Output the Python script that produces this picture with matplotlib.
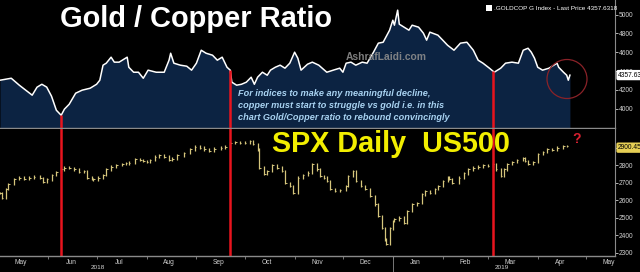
import matplotlib
matplotlib.use("Agg")
import matplotlib.pyplot as plt
import matplotlib.dates as mdates
from matplotlib.patches import Ellipse, Rectangle
import numpy as np
import pandas as pd

plt.rcParams["font.family"] = ["Liberation Sans", "DejaVu Sans"]

# --- Gold / Copper ratio ---
gold_dates = [
    "2018-05-02", "2018-05-09", "2018-05-14", "2018-05-18", "2018-05-22", "2018-05-25", "2018-05-28",
    "2018-05-31", "2018-06-03", "2018-06-06", "2018-06-09", "2018-06-11", "2018-06-14", "2018-06-18",
    "2018-06-22", "2018-06-27", "2018-07-01", "2018-07-03", "2018-07-05", "2018-07-07", "2018-07-10",
    "2018-07-12", "2018-07-15", "2018-07-20", "2018-07-21", "2018-07-24", "2018-07-27", "2018-07-30",
    "2018-08-02", "2018-08-07", "2018-08-12", "2018-08-15", "2018-08-16", "2018-08-18", "2018-08-22",
    "2018-08-26", "2018-08-29", "2018-09-01", "2018-09-04", "2018-09-07", "2018-09-11", "2018-09-14",
    "2018-09-17", "2018-09-20", "2018-09-22", "2018-09-23", "2018-09-26", "2018-09-29", "2018-10-02",
    "2018-10-05", "2018-10-07", "2018-10-09", "2018-10-12", "2018-10-15", "2018-10-17", "2018-10-20",
    "2018-10-23", "2018-10-26", "2018-10-29", "2018-11-01", "2018-11-03", "2018-11-05", "2018-11-09",
    "2018-11-12", "2018-11-16", "2018-11-21", "2018-11-25", "2018-11-29", "2018-12-01", "2018-12-03",
    "2018-12-06", "2018-12-09", "2018-12-13", "2018-12-16", "2018-12-20", "2018-12-23", "2018-12-26",
    "2018-12-28", "2018-12-30", "2019-01-01", "2019-01-02", "2019-01-04", "2019-01-05", "2019-01-08",
    "2019-01-11", "2019-01-13", "2019-01-17", "2019-01-20", "2019-01-22", "2019-01-24", "2019-01-29",
    "2019-02-01", "2019-02-04", "2019-02-08", "2019-02-12", "2019-02-16", "2019-02-20", "2019-02-23",
    "2019-02-26", "2019-03-02", "2019-03-05", "2019-03-09", "2019-03-12", "2019-03-16", "2019-03-20",
    "2019-03-23", "2019-03-26", "2019-03-28", "2019-03-30", "2019-04-01", "2019-04-04", "2019-04-08",
    "2019-04-11", "2019-04-13", "2019-04-14", "2019-04-17", "2019-04-19", "2019-04-20", "2019-04-21",
]
gold_values = [
    4303, 4324, 4250, 4197, 4144, 4229, 4260,
    4230, 4133, 3984, 3930, 3995, 4048, 4165,
    4197, 4218, 4260, 4303, 4463, 4484, 4548,
    4495, 4495, 4548, 4441, 4388, 4388, 4324,
    4410, 4388, 4388, 4516, 4590, 4484, 4463,
    4452, 4410, 4484, 4622, 4590, 4569, 4516,
    4548, 4441, 4410, 4282, 4250, 4260, 4282,
    4335, 4260, 4335, 4388, 4356, 4410, 4441,
    4463, 4431, 4484, 4601, 4537, 4410, 4473,
    4495, 4463, 4388, 4410, 4431, 4388, 4484,
    4495, 4463, 4495, 4484, 4601, 4697, 4707,
    4771, 4835, 4941, 4888, 5048, 4899, 4867,
    4835, 4888, 4867, 4803, 4729, 4814, 4782,
    4729, 4675, 4622, 4697, 4707, 4622, 4516,
    4484, 4431, 4388, 4431, 4484, 4495, 4484,
    4622, 4643, 4601, 4537, 4441, 4410, 4431,
    4463, 4484, 4441, 4388, 4356, 4303, 4357,
]

# --- SPX daily closes ---
spx_dates = [
    "2018-05-02", "2018-05-03", "2018-05-06", "2018-05-07", "2018-05-11", "2018-05-14", "2018-05-17",
    "2018-05-20", "2018-05-23", "2018-05-27", "2018-05-29", "2018-05-31", "2018-06-03", "2018-06-06",
    "2018-06-09", "2018-06-11", "2018-06-14", "2018-06-17", "2018-06-20", "2018-06-23", "2018-06-25",
    "2018-06-28", "2018-06-29", "2018-07-02", "2018-07-05", "2018-07-07", "2018-07-10", "2018-07-13",
    "2018-07-17", "2018-07-19", "2018-07-21", "2018-07-25", "2018-07-28", "2018-07-30", "2018-08-01",
    "2018-08-03", "2018-08-06", "2018-08-09", "2018-08-12", "2018-08-15", "2018-08-17", "2018-08-20",
    "2018-08-24", "2018-08-28", "2018-08-31", "2018-09-03", "2018-09-06", "2018-09-09", "2018-09-12",
    "2018-09-16", "2018-09-19", "2018-09-22", "2018-09-25", "2018-09-28", "2018-10-01", "2018-10-04",
    "2018-10-06", "2018-10-09", "2018-10-10", "2018-10-13", "2018-10-15", "2018-10-18", "2018-10-21",
    "2018-10-24", "2018-10-26", "2018-10-29", "2018-10-31", "2018-11-03", "2018-11-06", "2018-11-09",
    "2018-11-12", "2018-11-15", "2018-11-17", "2018-11-19", "2018-11-21", "2018-11-23", "2018-11-26",
    "2018-11-29", "2018-12-03", "2018-12-04", "2018-12-07", "2018-12-09", "2018-12-12", "2018-12-15",
    "2018-12-18", "2018-12-21", "2018-12-23", "2018-12-25", "2018-12-27", "2018-12-28", "2018-12-30",
    "2019-01-01", "2019-01-02", "2019-01-05", "2019-01-08", "2019-01-10", "2019-01-13", "2019-01-16",
    "2019-01-19", "2019-01-21", "2019-01-24", "2019-01-27", "2019-01-29", "2019-02-01", "2019-02-04",
    "2019-02-05", "2019-02-07", "2019-02-11", "2019-02-14", "2019-02-17", "2019-02-20", "2019-02-23",
    "2019-02-26", "2019-03-01", "2019-03-04", "2019-03-06", "2019-03-09", "2019-03-11", "2019-03-13",
    "2019-03-16", "2019-03-19", "2019-03-23", "2019-03-24", "2019-03-26", "2019-03-29", "2019-04-01",
    "2019-04-04", "2019-04-07", "2019-04-10", "2019-04-13", "2019-04-17", "2019-04-19",
]
spx_close = [
    2643, 2615, 2665, 2693, 2722, 2729, 2723,
    2729, 2735, 2726, 2706, 2720, 2743, 2762,
    2777, 2786, 2785, 2777, 2762, 2767, 2729,
    2723, 2720, 2729, 2743, 2777, 2792, 2800,
    2806, 2811, 2815, 2834, 2830, 2825, 2819,
    2830, 2849, 2857, 2849, 2830, 2838, 2857,
    2869, 2891, 2906, 2901, 2891, 2882, 2895,
    2901, 2906, 2926, 2933, 2926, 2929, 2939,
    2920, 2891, 2786, 2749, 2767, 2800, 2786,
    2767, 2700, 2682, 2643, 2729, 2743, 2758,
    2806, 2777, 2739, 2729, 2710, 2663, 2653,
    2659, 2682, 2739, 2767, 2710, 2682, 2663,
    2625, 2577, 2510, 2443, 2377, 2351, 2440,
    2482, 2491, 2501, 2472, 2539, 2577, 2586,
    2634, 2653, 2643, 2666, 2682, 2710, 2729,
    2723, 2700, 2729, 2754, 2777, 2786, 2792,
    2800, 2796, 2806, 2777, 2739, 2777, 2806,
    2819, 2830, 2843, 2825, 2806, 2819, 2863,
    2876, 2891, 2888, 2901, 2910, 2910,
]

red_line_dates = ["2018-06-09", "2018-09-22", "2019-03-04"]
month_labels = ["May", "Jun", "Jul", "Aug", "Sep", "Oct", "Nov", "Dec", "Jan", "Feb", "Mar", "Apr", "May"]
top_ticks = [4000, 4200, 4400, 4600, 4800, 5000]
bottom_ticks = [2300, 2400, 2500, 2600, 2700, 2800, 2900]
last_gold = "4357.6318"
last_spx = "2900.45"

gd = pd.to_datetime(gold_dates)
sd = pd.to_datetime(spx_dates)
rd = pd.to_datetime(red_line_dates)
gv = np.array(gold_values, dtype=float)
sc = np.array(spx_close, dtype=float)

BG = "black"
GRID = "#8a8a8a"
TXT = "#d0d0d0"
RED = "#e8141e"

fig = plt.figure(figsize=(6.4, 2.72), dpi=100, facecolor=BG)
W = 615 / 640
ax1 = fig.add_axes([0, 1 - 128 / 272, W, 128 / 272], facecolor=BG)
ax2 = fig.add_axes([0, 1 - 256 / 272, W, 127 / 272], facecolor=BG, sharex=ax1)

x0, x1 = pd.Timestamp("2018-05-02"), pd.Timestamp("2019-05-19")
top_lim = (3795, 5156)
bot_lim = (2282, 3007)

# top panel
ax1.fill_between(gd, gv, top_lim[0], color="#0c2342", lw=0)
ax1.plot(gd, gv, color="white", lw=1.1)
tops = np.interp(mdates.date2num(rd), mdates.date2num(gd), gv)
ax1.vlines(rd, top_lim[0], tops, color=RED, lw=1.8)
ax1.set_ylim(*top_lim)

# bottom panel: daily bars
prev = np.concatenate([[sc[0]], sc[:-1]])
lo = np.minimum(prev, sc) - 7
hi = np.maximum(prev, sc) + 7
ax2.vlines(sd, lo, hi, color="#d6c67c", lw=0.9)
ax2.hlines(sc, mdates.date2num(sd), mdates.date2num(sd) + 1.0, color="#d6c67c", lw=0.7)
for d in rd:
    ax2.axvline(d, color=RED, lw=1.8)
ax2.set_ylim(*bot_lim)
ax2.set_xlim(x0, x1)

for ax, ticks in ((ax1, top_ticks), (ax2, bottom_ticks)):
    for s in ("left", "top"):
        ax.spines[s].set_visible(False)
    ax.spines["right"].set_color(GRID)
    ax.spines["bottom"].set_color(GRID)
    ax.spines["right"].set_linewidth(0.8)
    ax.spines["bottom"].set_linewidth(1.0)
    ax.yaxis.tick_right()
    ax.set_yticks(ticks)
    ax.tick_params(axis="y", colors=TXT, labelsize=4.8, length=2, width=0.6, pad=1)

ax1.tick_params(axis="x", bottom=False, labelbottom=False)

ax2.xaxis.set_major_locator(mdates.MonthLocator())
ax2.xaxis.set_major_formatter(plt.NullFormatter())
mid = pd.date_range("2018-05-01", "2019-05-01", freq="MS") + pd.Timedelta(days=14)
ax2.set_xticks(mid, minor=True)
ax2.set_xticklabels(month_labels, minor=True)
ax2.tick_params(axis="x", which="major", colors=GRID, length=2, width=0.6)
ax2.tick_params(axis="x", which="minor", length=0, labelsize=4.8, labelcolor=TXT, pad=2)

# year labels and separator
trans = ax2.get_xaxis_transform()
ax2.plot([mdates.date2num(pd.Timestamp("2019-01-01"))] * 2, [0, -0.13], transform=trans,
         color=GRID, lw=0.6, clip_on=False)
ax2.text(pd.Timestamp("2018-07-02"), -0.088, "2018", transform=trans, color=TXT, fontsize=4.6,
         ha="center", va="center")
ax2.text(pd.Timestamp("2019-03-10"), -0.088, "2019", transform=trans, color=TXT, fontsize=4.6,
         ha="center", va="center")

# last price labels
ax1.text(1.005, (4357.63 - top_lim[0]) / (top_lim[1] - top_lim[0]), last_gold, transform=ax1.transAxes,
         fontsize=4.8, color="black", va="center", ha="left", clip_on=False,
         bbox=dict(boxstyle="round,pad=0.25", fc="white", ec="none"))
ax2.text(1.005, (2900.45 - bot_lim[0]) / (bot_lim[1] - bot_lim[0]), last_spx, transform=ax2.transAxes,
         fontsize=4.8, color="black", va="center", ha="left", clip_on=False,
         bbox=dict(boxstyle="round,pad=0.25", fc="#e6cf55", ec="none"))

# texts
fig.text(60 / 640, 1 - 19 / 272, "Gold / Copper Ratio", color="white", fontsize=20.9,
         fontweight="bold", ha="left", va="center")
fig.add_artist(Rectangle((486 / 640, 1 - 11 / 272), 6 / 640, 6 / 272, transform=fig.transFigure,
                         fc="white", ec="none"))
fig.text(494 / 640, 1 - 8 / 272, ".GOLDCOP G Index - Last Price 4357.6318", color="white",
         fontsize=4.6, ha="left", va="center")
fig.text(386 / 640, 1 - 57 / 272, "AshrafLaidi.com", color="#8c8c8c", fontsize=7.4,
         fontweight="bold", ha="center", va="center", alpha=0.9)
note = ["For indices to make any meaningful decline,",
        "copper must start to struggle vs gold i.e. in this",
        "chart Gold/Copper ratio to rebound convincingly"]
for i, line in enumerate(note):
    fig.text(238 / 640, 1 - (93 + i * 12.5) / 272, line, color="#a9d3f2", fontsize=6.6,
             fontweight="bold", fontstyle="italic", ha="left", va="center")
fig.text(272 / 640, 1 - 144 / 272, "SPX Daily  US500", color="#f2ee00", fontsize=20.7,
         fontweight="bold", ha="left", va="center")
fig.text(577 / 640, 1 - 139 / 272, "?", color="#d52030", fontsize=10, fontweight="bold",
         ha="center", va="center")
fig.add_artist(Ellipse((567 / 640, 1 - 79 / 272), 40 / 640, 39 / 272, transform=fig.transFigure,
                       fill=False, ec="#8a2228", lw=0.9))

fig.savefig("out.png", dpi=100, facecolor=BG)
